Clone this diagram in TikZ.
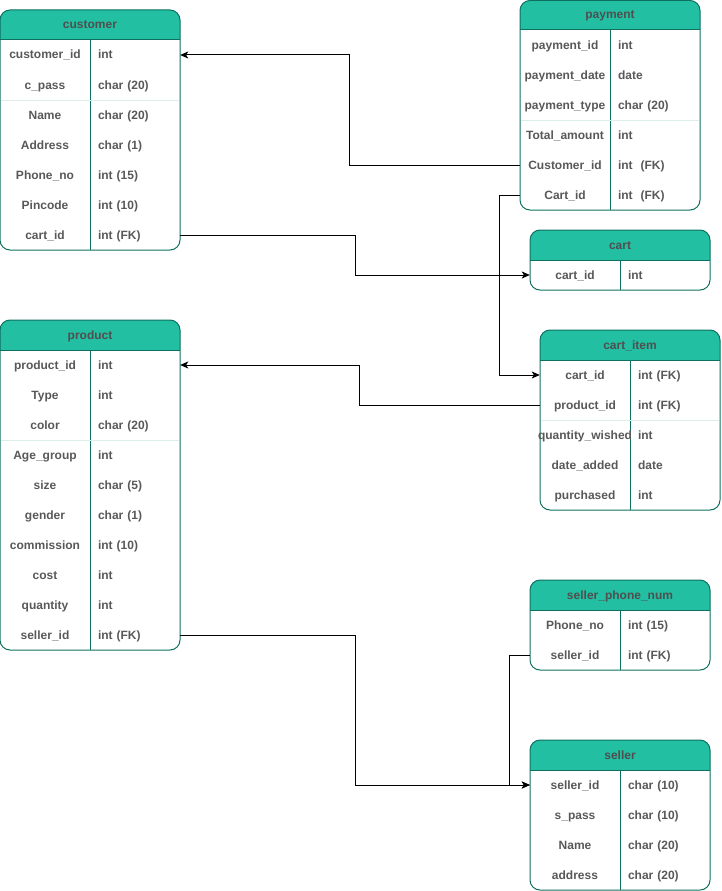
\documentclass[tikz,border=0pt]{standalone}
\usepackage{fontspec}
\setmainfont{Liberation Sans}
\usepackage{tikz}
\usetikzlibrary{arrows.meta}

\definecolor{hdrteal}{RGB}{34,191,163}
\definecolor{bordteal}{RGB}{14,112,96}
\definecolor{sepgray}{RGB}{220,238,233}
\definecolor{txtgray}{RGB}{88,88,88}

\tikzset{
  keycell/.style={minimum width=90pt, minimum height=30pt, inner sep=0pt,
    text height=10pt, text depth=2pt,
    text=txtgray, font=\bfseries\fontsize{12}{14}\selectfont},
  typecell/.style={keycell, text width=74pt, align=left, inner xsep=8pt},
  title/.style={keycell, text=txtgray!90!black},
  hdr/.style={fill=hdrteal},
  frame/.style={draw=bordteal, line width=1pt, rounded corners=10pt},
  rule/.style={draw=bordteal, line width=1pt},
  lightrule/.style={draw=sepgray, line width=1pt},
  fk/.style={draw=black, line width=1pt, -{Stealth[length=8pt,width=7pt,inset=2pt]}}
}

\begin{document}
\begin{tikzpicture}[x=1pt,y=-1pt]
    \useasboundingbox (0,0) rectangle (721,891);

    % customer
    \fill[hdr] (0,40) [rounded corners=10pt] -- (0,10) -- (180,10) [sharp corners] -- (180,40) -- cycle;
    \draw[frame] (0,10) rectangle (180,250);
    \draw[rule] (0,40) -- (180,40);
    \draw[rule] (90,40) -- (90,250);
    \draw[lightrule] (1,100) -- (179,100);
    \node[title] (customer) at (90,25) {customer};
    \node[keycell] (cust-id) at (45,55) {customer\_id};
    \node[typecell] (cust-id-t) at (135,55) {int};
    \node[keycell] (cust-pass) at (45,85) {c\_pass};
    \node[typecell] (cust-pass-t) at (135,85) {char (20)};
    \node[keycell] (cust-name) at (45,115) {Name};
    \node[typecell] (cust-name-t) at (135,115) {char (20)};
    \node[keycell] (cust-addr) at (45,145) {Address};
    \node[typecell] (cust-addr-t) at (135,145) {char (1)};
    \node[keycell] (cust-phone) at (45,175) {Phone\_no};
    \node[typecell] (cust-phone-t) at (135,175) {int (15)};
    \node[keycell] (cust-pin) at (45,205) {Pincode};
    \node[typecell] (cust-pin-t) at (135,205) {int (10)};
    \node[keycell] (cust-cart) at (45,235) {cart\_id};
    \node[typecell] (cust-cart-t) at (135,235) {int (FK)};

    % payment
    \fill[hdr] (520,30) [rounded corners=10pt] -- (520,0.5) -- (700,0.5) [sharp corners] -- (700,30) -- cycle;
    \draw[frame] (520,0.5) rectangle (700,210);
    \draw[rule] (520,30) -- (700,30);
    \draw[rule] (610,30) -- (610,210);
    \draw[lightrule] (521,120) -- (699,120);
    \node[title] (payment) at (610,15) {payment};
    \node[keycell] (pay-id) at (565,45) {payment\_id};
    \node[typecell] (pay-id-t) at (655,45) {int};
    \node[keycell] (pay-date) at (565,75) {payment\_date};
    \node[typecell] (pay-date-t) at (655,75) {date};
    \node[keycell] (pay-type) at (565,105) {payment\_type};
    \node[typecell] (pay-type-t) at (655,105) {char (20)};
    \node[keycell] (pay-total) at (565,135) {Total\_amount};
    \node[typecell] (pay-total-t) at (655,135) {int};
    \node[keycell] (pay-cus) at (565,165) {Customer\_id};
    \node[typecell] (pay-cus-t) at (655,165) {int\ \ (FK)};
    \node[keycell] (pay-cart) at (565,195) {Cart\_id};
    \node[typecell] (pay-cart-t) at (655,195) {int\ \ (FK)};

    % cart
    \fill[hdr] (530,260) [rounded corners=10pt] -- (530,230) -- (710,230) [sharp corners] -- (710,260) -- cycle;
    \draw[frame] (530,230) rectangle (710,290);
    \draw[rule] (530,260) -- (710,260);
    \draw[rule] (620,260) -- (620,290);
    \node[title] (cart) at (620,245) {cart};
    \node[keycell] (cart-id) at (575,275) {cart\_id};
    \node[typecell] (cart-id-t) at (665,275) {int};

    % product
    \fill[hdr] (0,350) [rounded corners=10pt] -- (0,320) -- (180,320) [sharp corners] -- (180,350) -- cycle;
    \draw[frame] (0,320) rectangle (180,650);
    \draw[rule] (0,350) -- (180,350);
    \draw[rule] (90,350) -- (90,650);
    \draw[lightrule] (1,440) -- (179,440);
    \node[title] (product) at (90,335) {product};
    \node[keycell] (prod-id) at (45,365) {product\_id};
    \node[typecell] (prod-id-t) at (135,365) {int};
    \node[keycell] (prod-type) at (45,395) {Type};
    \node[typecell] (prod-type-t) at (135,395) {int};
    \node[keycell] (prod-color) at (45,425) {color};
    \node[typecell] (prod-color-t) at (135,425) {char (20)};
    \node[keycell] (prod-age) at (45,455) {Age\_group};
    \node[typecell] (prod-age-t) at (135,455) {int};
    \node[keycell] (prod-size) at (45,485) {size};
    \node[typecell] (prod-size-t) at (135,485) {char (5)};
    \node[keycell] (prod-gender) at (45,515) {gender};
    \node[typecell] (prod-gender-t) at (135,515) {char (1)};
    \node[keycell] (prod-comm) at (45,545) {commission};
    \node[typecell] (prod-comm-t) at (135,545) {int (10)};
    \node[keycell] (prod-cost) at (45,575) {cost};
    \node[typecell] (prod-cost-t) at (135,575) {int};
    \node[keycell] (prod-qty) at (45,605) {quantity};
    \node[typecell] (prod-qty-t) at (135,605) {int};
    \node[keycell] (prod-sel) at (45,635) {seller\_id};
    \node[typecell] (prod-sel-t) at (135,635) {int (FK)};

    % cart_item
    \fill[hdr] (540,360) [rounded corners=10pt] -- (540,330) -- (720,330) [sharp corners] -- (720,360) -- cycle;
    \draw[frame] (540,330) rectangle (720,510);
    \draw[rule] (540,360) -- (720,360);
    \draw[rule] (630,360) -- (630,510);
    \draw[lightrule] (541,420) -- (719,420);
    \node[title] (cartitem) at (630,345) {cart\_item};
    \node[keycell] (item-cart) at (585,375) {cart\_id};
    \node[typecell] (item-cart-t) at (675,375) {int (FK)};
    \node[keycell] (item-prod) at (585,405) {product\_id};
    \node[typecell] (item-prod-t) at (675,405) {int (FK)};
    \node[keycell] (item-qty) at (585,435) {quantity\_wished};
    \node[typecell] (item-qty-t) at (675,435) {int};
    \node[keycell] (item-date) at (585,465) {date\_added};
    \node[typecell] (item-date-t) at (675,465) {date};
    \node[keycell] (item-buy) at (585,495) {purchased};
    \node[typecell] (item-buy-t) at (675,495) {int};

    % seller_phone_num
    \fill[hdr] (530,610) [rounded corners=10pt] -- (530,580) -- (710,580) [sharp corners] -- (710,610) -- cycle;
    \draw[frame] (530,580) rectangle (710,670);
    \draw[rule] (530,610) -- (710,610);
    \draw[rule] (620,610) -- (620,670);
    \node[title] (phonenum) at (620,595) {seller\_phone\_num};
    \node[keycell] (phone-no) at (575,625) {Phone\_no};
    \node[typecell] (phone-no-t) at (665,625) {int (15)};
    \node[keycell] (phone-sel) at (575,655) {seller\_id};
    \node[typecell] (phone-sel-t) at (665,655) {int (FK)};

    % seller
    \fill[hdr] (530,770) [rounded corners=10pt] -- (530,740) -- (710,740) [sharp corners] -- (710,770) -- cycle;
    \draw[frame] (530,740) rectangle (710,890);
    \draw[rule] (530,770) -- (710,770);
    \draw[rule] (620,770) -- (620,890);
    \node[title] (seller) at (620,755) {seller};
    \node[keycell] (sel-id) at (575,785) {seller\_id};
    \node[typecell] (sel-id-t) at (665,785) {char (10)};
    \node[keycell] (sel-pass) at (575,815) {s\_pass};
    \node[typecell] (sel-pass-t) at (665,815) {char (10)};
    \node[keycell] (sel-name) at (575,845) {Name};
    \node[typecell] (sel-name-t) at (665,845) {char (20)};
    \node[keycell] (sel-addr) at (575,875) {address};
    \node[typecell] (sel-addr-t) at (665,875) {char (20)};

    % foreign keys
    \draw[fk] (pay-cus.west) -- ++(-170,0) |- (cust-id-t.east);
    \draw[fk] (cust-cart-t.east) -- ++(175,0) |- (cart-id.west);
    \draw[fk] (pay-cart.west) -- ++(-20,0) |- (item-cart.west);
    \draw[fk] (item-prod.west) -- ++(-180,0) |- (prod-id-t.east);
    \draw[fk] (prod-sel-t.east) -- ++(175,0) |- (sel-id.west);
    \draw[fk] (phone-sel.west) -- ++(-20,0) |- (sel-id.west);
\end{tikzpicture}
\end{document}
